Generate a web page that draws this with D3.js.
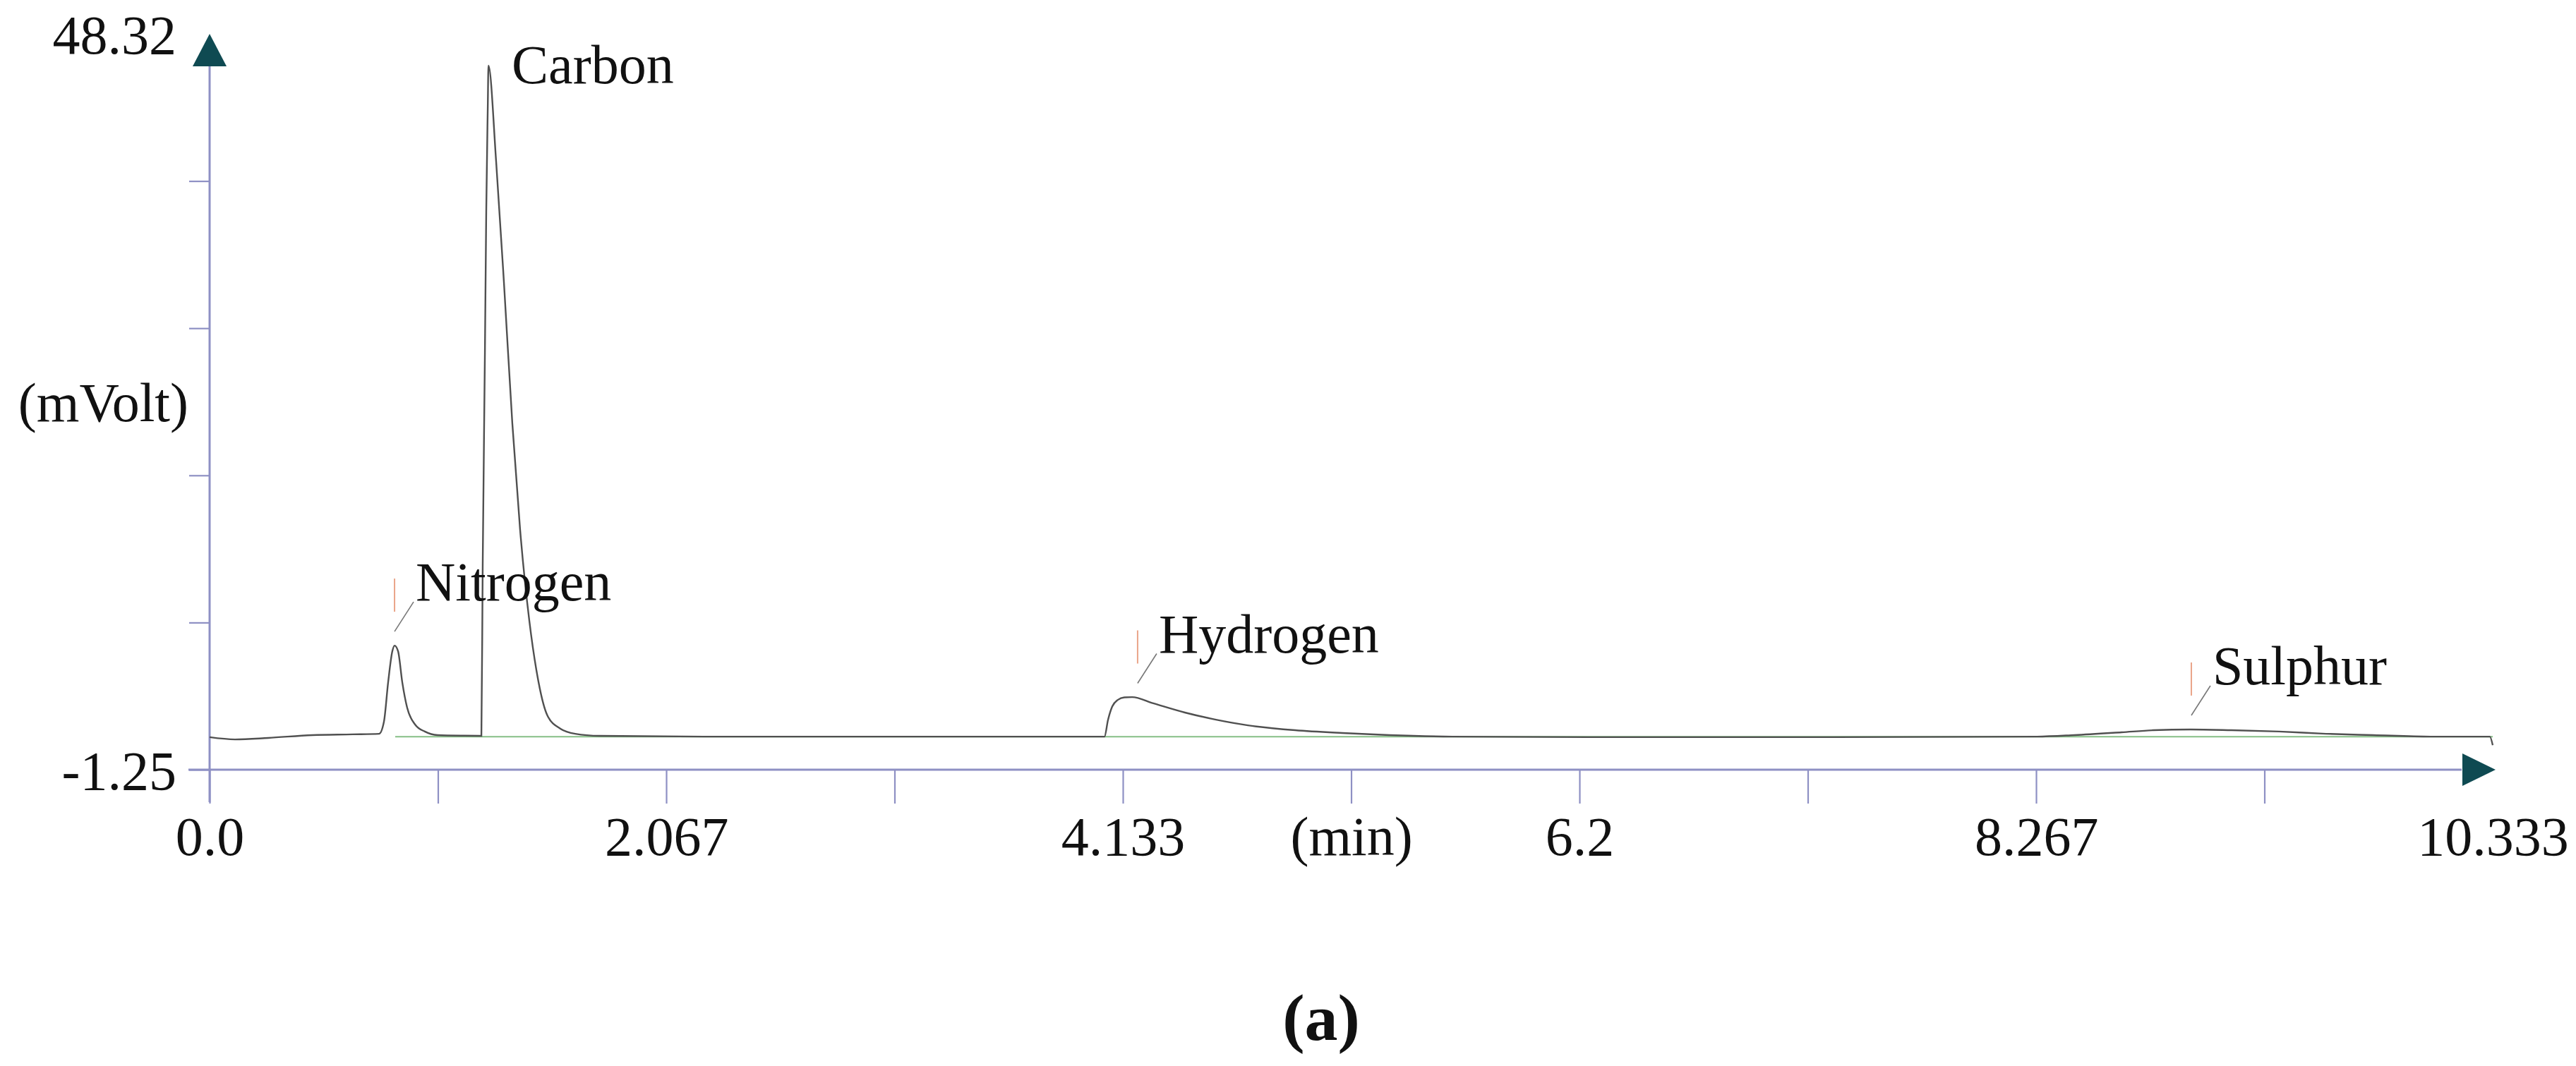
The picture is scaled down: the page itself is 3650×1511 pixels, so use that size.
<!DOCTYPE html>
<html>
<head>
<meta charset="utf-8">
<script src="https://cdn.jsdelivr.net/npm/d3@7"></script>
<style>
  html, body { margin: 0; padding: 0; background: #fff; }
  svg { display: block; }
  text { font-family: "Liberation Serif", "Times New Roman", serif; fill: #111; }
</style>
</head>
<body>
<script>
// ---- data ----
const times = [
  0.000, 0.115, 0.265, 0.466, 0.648, 0.767,
  0.789, 0.808, 0.827, 0.837, 0.853, 0.872, 0.894, 0.930, 0.974, 1.032, 1.153, 1.225,
  1.230, 1.236, 1.246, 1.252, 1.259, 1.262, 1.297, 1.332, 1.370, 1.405, 1.447, 1.479, 1.530, 1.588, 1.655, 1.766,
  2.245, 3.044, 4.037,
  4.050, 4.066, 4.085, 4.110, 4.140, 4.175, 4.271, 4.414, 4.555, 4.699, 4.913, 5.127, 5.341, 5.625, 6.238,
  7.356, 8.270,
  8.439, 8.653, 8.797, 8.966, 9.151, 9.365, 9.579, 9.793, 10.052, 10.320, 10.333
];
const signal = [
  0.94, 0.79, 0.89, 1.08, 1.13, 1.17,
  1.98, 4.64, 6.73, 7.11, 6.73, 4.64, 2.93, 1.79, 1.32, 1.08, 1.04, 1.03,
  1.03, 12.58, 26.84, 36.35, 43.47, 46.18, 39.67, 31.59, 22.09, 14.96, 8.78, 5.45, 2.36, 1.51, 1.17, 1.03,
  0.98, 0.98, 0.98,
  0.98, 2.10, 3.00, 3.45, 3.62, 3.64, 3.22, 2.60, 2.12, 1.74, 1.41, 1.22, 1.08, 0.98, 0.94,
  0.94, 0.98,
  1.08, 1.27, 1.41, 1.46, 1.41, 1.32, 1.17, 1.08, 0.98, 0.98, 0.40
];
const baselineTimes = [0.84, 10.333];
const baselineValues = [0.97, 0.97];

const peakNames = ["Nitrogen", "Carbon", "Hydrogen", "Sulphur"];
const peakTimes = [0.837, 1.262, 4.200, 8.969];
const peakValues = [7.11, 46.18, 3.62, 1.46];

const xMin = 0, xMax = 10.333;
const yMin = -1.25, yMax = 48.32;
const xLabelValues = [0, 2.067, 4.133, 5.1667, 6.2, 8.267, 10.333];
const xLabelTexts = ["0.0", "2.067", "4.133", "(min)", "6.2", "8.267", "10.333"];
const yLabelValues = [-1.25, 48.32];
const yLabelTexts = ["-1.25", "48.32"];
const yAxisTitle = "(mVolt)";
const caption = "(a)";

// ---- layout ----
const W = 3650, H = 1511;
const svg = d3.select("body").append("svg").attr("width", W).attr("height", H);
svg.append("rect").attr("width", W).attr("height", H).attr("fill", "#fff");

const x = d3.scaleLinear().domain([xMin, xMax]).range([297, 3532]);
const y = d3.scaleLinear().domain([yMin, yMax]).range([1091, 48]);

const axisColor = "#8e90c4";
const arrowColor = "#0f4a52";
const FS = 78;

// x ticks (10 divisions, no tick at the arrow end)
const xTickVals = d3.range(0, 10).map(i => i * xMax / 10);
const gxt = svg.append("g").attr("transform", `translate(0,${y(yMin)})`)
  .call(d3.axisBottom(x).tickValues(xTickVals).tickSize(48).tickSizeOuter(0).tickFormat(""));
gxt.select(".domain").remove();
gxt.selectAll(".tick line").attr("stroke", axisColor).attr("stroke-width", 2.2);

// x labels
const gxl = svg.append("g").attr("transform", `translate(0,${y(yMin)})`)
  .call(d3.axisBottom(x).tickValues(xLabelValues).tickSize(0).tickSizeOuter(0)
    .tickFormat((d, i) => xLabelTexts[i]));
gxl.select(".domain").remove();
gxl.selectAll(".tick text").attr("y", 121).attr("dy", null)
  .attr("font-size", FS).attr("fill", "#111")
  .style("font-family", '"Liberation Serif", "Times New Roman", serif');

// y ticks
const yStep = (yMax - yMin) / 5;
const yTickVals = d3.range(0, 5).map(i => yMin + i * yStep);
const gyt = svg.append("g").attr("transform", `translate(${x(xMin)},0)`)
  .call(d3.axisLeft(y).tickValues(yTickVals).tickSize(29).tickSizeOuter(0).tickFormat(""));
gyt.select(".domain").remove();
gyt.selectAll(".tick line").attr("stroke", axisColor).attr("stroke-width", 2.2);

// y labels
const gyl = svg.append("g").attr("transform", `translate(${x(xMin)},0)`)
  .call(d3.axisLeft(y).tickValues(yLabelValues).tickSize(0).tickSizeOuter(0)
    .tickPadding(47).tickFormat((d, i) => yLabelTexts[i]));
gyl.select(".domain").remove();
gyl.selectAll(".tick text").attr("dy", "0.35em")
  .attr("font-size", FS).attr("fill", "#111")
  .style("font-family", '"Liberation Serif", "Times New Roman", serif');

// y axis title, centred on the axis
svg.append("text")
  .attr("x", 267).attr("y", (y(yMin) + y(yMax)) / 2).attr("dy", "0.35em")
  .attr("text-anchor", "end").attr("font-size", FS).text(yAxisTitle);

// axis lines
svg.append("line").attr("x1", x(xMin)).attr("x2", x(xMin))
  .attr("y1", y(yMax) + 44).attr("y2", y(yMin) + 46)
  .attr("stroke", axisColor).attr("stroke-width", 3);
svg.append("line").attr("x1", x(xMin) - 30).attr("x2", x(xMax) - 44)
  .attr("y1", y(yMin)).attr("y2", y(yMin))
  .attr("stroke", axisColor).attr("stroke-width", 3);

// arrow heads
const yTip = [x(xMin), y(yMax)];
svg.append("path")
  .attr("d", `M${yTip[0]},${yTip[1]} L${yTip[0] - 24},${yTip[1] + 46} L${yTip[0] + 24},${yTip[1] + 46} Z`)
  .attr("fill", arrowColor);
const xTip = [x(xMax) + 4, y(yMin)];
svg.append("path")
  .attr("d", `M${xTip[0]},${xTip[1]} L${xTip[0] - 47},${xTip[1] - 23} L${xTip[0] - 47},${xTip[1] + 23} Z`)
  .attr("fill", arrowColor);

// baseline (green)
svg.append("path")
  .datum(baselineTimes.map((t, i) => [t, baselineValues[i]]))
  .attr("d", d3.line().x(d => x(d[0])).y(d => y(d[1])))
  .attr("fill", "none").attr("stroke", "#86bf86").attr("stroke-width", 2);

// signal
svg.append("path")
  .datum(times.map((t, i) => [t, signal[i]]))
  .attr("d", d3.line().x(d => x(d[0])).y(d => y(d[1])).curve(d3.curveMonotoneX))
  .attr("fill", "none").attr("stroke", "#505050").attr("stroke-width", 2.4);

// peak annotations
peakNames.forEach((name, i) => {
  const px = x(peakTimes[i]);
  const py = y(peakValues[i]);
  if (name === "Carbon") {
    svg.append("text").attr("x", px + 33).attr("y", py + 25)
      .attr("font-size", FS).text(name);
    return;
  }
  svg.append("line").attr("x1", px).attr("x2", px).attr("y1", py - 95).attr("y2", py - 48)
    .attr("stroke", "#eaa488").attr("stroke-width", 2);
  svg.append("line").attr("x1", px).attr("y1", py - 20).attr("x2", px + 27).attr("y2", py - 62)
    .attr("stroke", "#777").attr("stroke-width", 1.6);
  svg.append("text").attr("x", px + 30).attr("y", py - 64)
    .attr("font-size", FS).text(name);
});

// caption
svg.append("text").attr("x", 1872).attr("y", 1474).attr("text-anchor", "middle")
  .attr("font-size", 94).attr("font-weight", "bold").text(caption);
</script>
</body>
</html>
